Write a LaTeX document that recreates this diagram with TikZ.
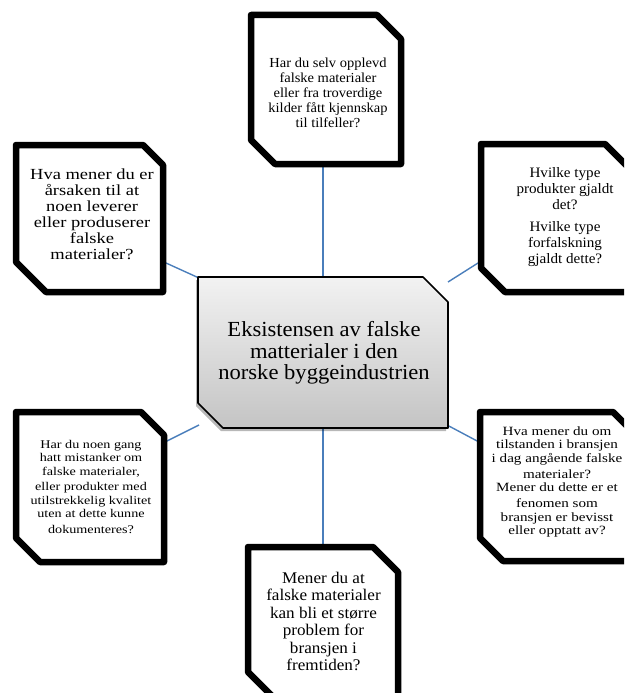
\documentclass[tikz,border=0pt]{standalone}
\usepackage{fontspec}
\setmainfont{Liberation Serif}[FakeStretch=1.05]
\newfontfamily\widefam{Liberation Serif}[FakeStretch=1.2]
\definecolor{linkblue}{RGB}{74,126,187}
\definecolor{shadetop}{RGB}{242,242,242}
\definecolor{shadebot}{RGB}{196,196,196}
\newcommand\chambox[7][]{\path[#1] (#2,#3) -- ({#4-#6},#3) -- (#4,{#3+#6}) -- (#4,#5) -- ({#2+#7},#5) -- (#2,{#5-#7}) -- cycle;}
\tikzset{
  qframe/.style={draw=black, line width=6.5pt, fill=white, line join=round},
  mainframe/.style={draw=black, line width=1.6pt, top color=shadetop, bottom color=shadebot, line join=round},
  mainshadow/.style={fill=black, opacity=0.28},
  link/.style={draw=linkblue, line width=1.4pt},
  qtext/.style={align=center, inner sep=0pt, text=black},
}
\begin{document}
\begin{tikzpicture}[x=1pt,y=-1pt]
\useasboundingbox (0,0) rectangle (624,693);
\clip (0,0) rectangle (624,693);
% connector end points
\coordinate (topE) at (323,164);
\coordinate (cTop) at (323,277);
\coordinate (luE) at (166,263);
\coordinate (cLU) at (199,278);
\coordinate (ruE) at (478,263);
\coordinate (cRU) at (448,282);
\coordinate (llE) at (165,442);
\coordinate (cLL) at (199,425);
\coordinate (rlE) at (479,442);
\coordinate (cRL) at (447,425);
\coordinate (botE) at (323,547);
\coordinate (cBot) at (323,428);
% connectors
\draw[link] (topE) -- (cTop);
\draw[link] (luE) -- (cLU);
\draw[link] (ruE) -- (cRU);
\draw[link] (llE) -- (cLL);
\draw[link] (rlE) -- (cRL);
\draw[link] (cBot) -- (botE);
% central box
\chambox[mainshadow, xshift=-2pt, yshift=-3pt]{198}{277}{448}{428}{25}{25}
\chambox[mainframe]{198}{277}{448}{428}{25}{25}
% question boxes
\chambox[qframe]{251}{15}{401}{164}{24}{24}
\chambox[qframe]{16}{145}{163}{292}{20}{30}
\chambox[qframe]{481}{144}{630}{292}{25}{24}
\chambox[qframe]{16}{412}{164}{562}{23}{24}
\chambox[qframe]{480}{412}{638}{561}{25}{23}
\chambox[qframe]{248}{547}{398}{697}{25}{25}
% texts
\node[qtext, font=\fontsize{21.5}{21.5}\selectfont] (center) at (324,353)
  {Eksistensen av falske\\matterialer i den\\norske byggeindustrien};
\node[qtext, font=\fontsize{13.8}{15}\selectfont] (qtop) at (328,92.5)
  {Har du selv opplevd\\falske materialer\\eller fra troverdige\\kilder fått kjennskap\\til tilfeller?};
\node[qtext, font=\widefam\fontsize{15.4}{16}\selectfont] (qleft) at (92,214)
  {Hva mener du er\\årsaken til at\\noen leverer\\eller produserer\\falske\\materialer?};
\node[qtext, font=\fontsize{14.4}{16}\selectfont] (qright) at (565,217.5)
  {Hvilke type\\produkter gjaldt\\det?\\[6pt]Hvilke type\\forfalskning\\gjaldt dette?};
\node[qtext, font=\widefam\fontsize{11.8}{13.5}\selectfont] (qbleft) at (91,487)
  {Har du noen gang\\hatt mistanker om\\falske materialer,\\[2pt]eller produkter med\\utilstrekkelig kvalitet\\uten at dette kunne\\[2.5pt]dokumenteres?};
\node[qtext, font=\widefam\fontsize{12.6}{13.4}\selectfont] (qbright) at (557,482)
  {Hva mener du om\\tilstanden i bransjen\\i dag angående falske\\[3pt]materialer?\\Mener du dette er et\\[2.5pt]fenomen som\\bransjen er bevisst\\eller opptatt av?};
\node[qtext, font=\fontsize{16.3}{17.5}\selectfont] (qbottom) at (323.5,621.5)
  {Mener du at\\falske materialer\\kan bli et større\\problem for\\bransjen i\\fremtiden?};
\end{tikzpicture}
\end{document}
